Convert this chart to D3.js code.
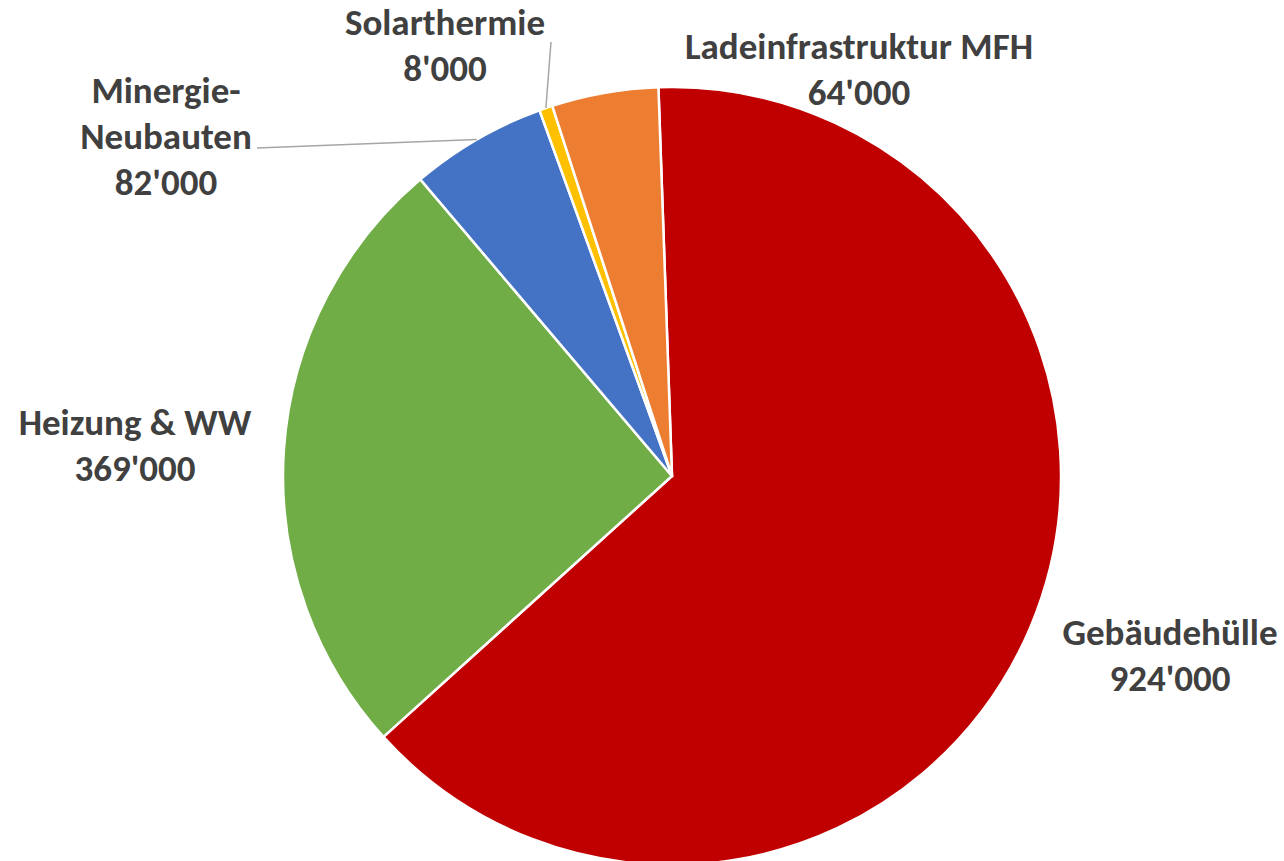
<!DOCTYPE html>
<meta charset="utf-8">
<style>
body { margin: 0; background: #fff; }
.lbl { font-family: Carlito, "Open Sans", sans-serif; font-weight: bold; fill: #404040; }
</style>
<body>
<script src="https://d3js.org/d3.v7.min.js"></script>
<script>
var width = 1284,
    height = 861;

// data, clockwise from 12 o'clock
var categories = ["Gebäudehülle", "Heizung & WW", "Minergie-\nNeubauten", "Solarthermie", "Ladeinfrastruktur MFH"];
var values = [924000, 369000, 82000, 8000, 64000];
var colors = ["#C00000", "#70AD47", "#4472C4", "#FFC000", "#ED7D31"];

// label anchors (centre x, first baseline y) and leader line ends
var labelPos = [[1170, 645], [135, 435], [166, 103], [445, 35], [859, 59]];
var leader = [null, null, [257, 148], [551, 42], null];

var cx = 672, cy = 476, radius = 389;

var svg = d3.select("body").append("svg")
    .attr("width", width)
    .attr("height", height);

var g = svg.append("g").attr("transform", "translate(" + cx + "," + cy + ")");

var offset = -2 * Math.PI / 180;
var pie = d3.pie().sort(null).startAngle(offset).endAngle(2 * Math.PI + offset);
var arcs = pie(values);

var arc = d3.arc().innerRadius(0).outerRadius(radius);

g.selectAll("path.slice")
    .data(arcs)
  .enter().append("path")
    .attr("class", "slice")
    .attr("d", arc)
    .attr("fill", function(d, i) { return colors[i]; })
    .attr("stroke", "#fff")
    .attr("stroke-width", 2.5)
    .attr("stroke-linejoin", "round");

var fmt = function(v) { return d3.format(",")(v).replace(/,/g, "'"); };

// leader lines
arcs.forEach(function(d, i) {
  if (!leader[i]) return;
  var a = (d.startAngle + d.endAngle) / 2;
  svg.append("line")
      .attr("x1", cx + radius * Math.sin(a))
      .attr("y1", cy - radius * Math.cos(a))
      .attr("x2", leader[i][0])
      .attr("y2", leader[i][1])
      .attr("stroke", "#a6a6a6")
      .attr("stroke-width", 1.5);
});

// labels
arcs.forEach(function(d, i) {
  var lines = categories[i].split("\n").concat([fmt(values[i])]);
  var t = svg.append("text")
      .attr("class", "lbl")
      .attr("text-anchor", "middle")
      .attr("font-size", 37);
  lines.forEach(function(s, j) {
    t.append("tspan")
        .attr("x", labelPos[i][0])
        .attr("y", labelPos[i][1] + j * 46)
        .text(s);
  });
});
</script>
</body>
</html>
